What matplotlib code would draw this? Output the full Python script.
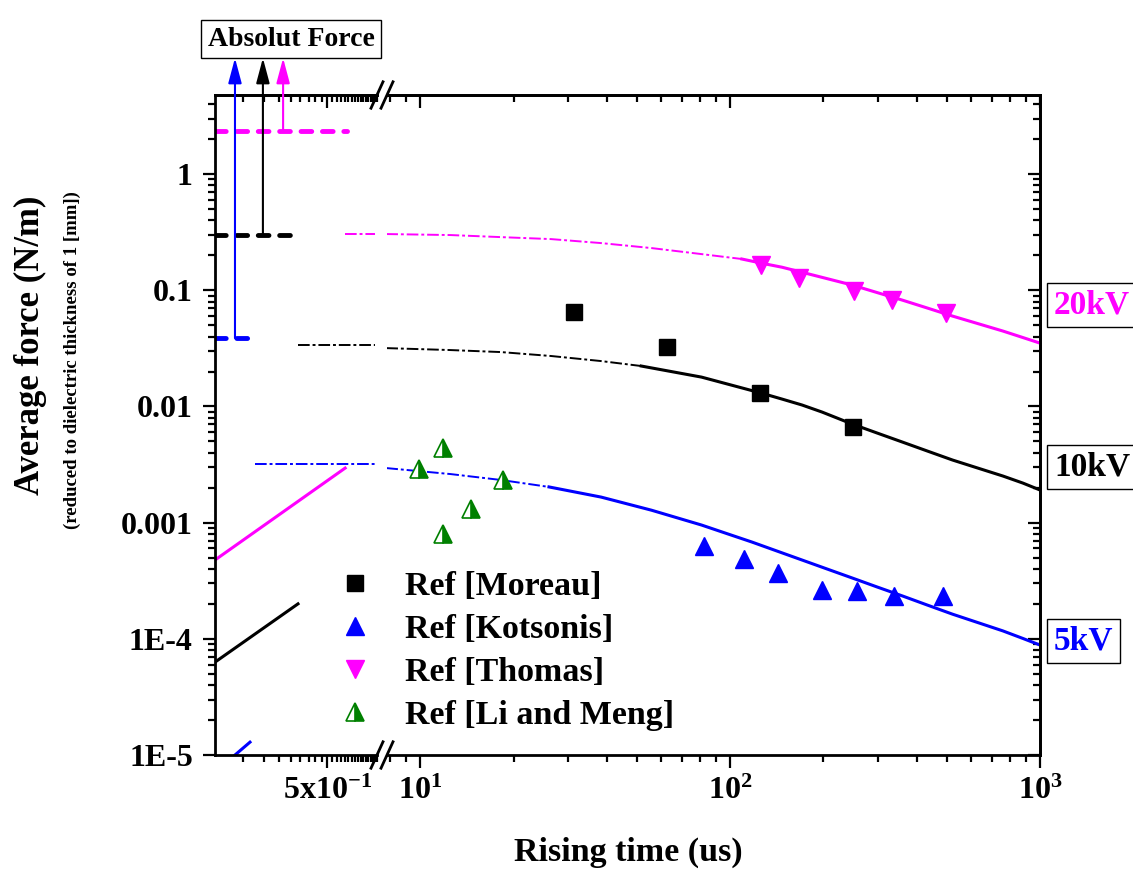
import numpy as np
import matplotlib.pyplot as plt
from matplotlib.ticker import NullFormatter, LogLocator

plt.rcParams['font.family'] = ['Liberation Serif', 'DejaVu Serif']
plt.rcParams['font.weight'] = 'bold'
plt.rcParams['mathtext.fontset'] = 'custom'
plt.rcParams['mathtext.rm'] = 'Liberation Serif:bold'
plt.rcParams['mathtext.it'] = 'Liberation Serif:bold'
plt.rcParams['mathtext.bf'] = 'Liberation Serif:bold'

MAG = '#FF00FF'
BLUE = '#0000FF'
GREEN = '#008000'

# experimental references (rising time in us, force in N/m)
moreau_t = [31.25, 62.5, 125, 250]
moreau_f = [0.065, 0.0325, 0.0130, 0.00665]
kotsonis_t = [82.6, 111, 142.6, 198, 257, 339, 485]
kotsonis_f = [6.3e-4, 4.86e-4, 3.68e-4, 2.63e-4, 2.6e-4, 2.33e-4, 2.33e-4]
thomas_t = [125.6, 167, 251, 333, 499]
thomas_f = [0.165, 0.127, 0.098, 0.082, 0.0637]
li_t = [9.93, 11.8, 18.5, 14.6, 11.8]
li_f = [2.89e-3, 4.39e-3, 2.33e-3, 1.31e-3, 7.98e-4]

# model curves, right part of the axis (dash-dot part, then solid part)
t20_dd = [7.76, 12.5, 18.2, 26.4, 38.3, 55.7, 80.8, 109]
f20_dd = [0.305, 0.299, 0.287, 0.276, 0.255, 0.231, 0.205, 0.186]
t20 = [109, 126.5, 147, 170.5, 205.5, 247.6, 298.5, 359.6, 433.5, 522, 630, 759, 881, 1000]
f20 = [0.186, 0.171, 0.158, 0.143, 0.126, 0.111, 0.0955, 0.0823, 0.0703, 0.060,
       0.0517, 0.0446, 0.0392, 0.0351]

t10_dd = [7.76, 12.5, 18.2, 26.4, 38.3, 51.6]
f10_dd = [0.0318, 0.0306, 0.0294, 0.0272, 0.0246, 0.0223]
t10 = [51.6, 80.8, 126.5, 147, 170.5, 198, 247.6, 298.5, 359.6, 433.5, 522, 630, 759,
       881, 1000]
f10 = [0.0223, 0.0179, 0.0130, 0.01158, 0.0103, 0.00895, 0.00706, 0.0059, 0.00494,
       0.00413, 0.00346, 0.00295, 0.00252, 0.00219, 0.00191]

t5_dd = [7.76, 12.5, 18.2, 26.0]
f5_dd = [0.00295, 0.00262, 0.00233, 0.00203]
t5 = [26.0, 38.3, 55.7, 80.8, 97.4, 117.5, 141.5, 170.5, 205.5, 247.6, 298.5, 359.6,
      433.5, 522, 630, 759, 881, 1000]
f5 = [0.00203, 0.00166, 0.00128, 9.54e-4, 8.06e-4, 6.81e-4, 5.70e-4, 4.77e-4, 3.99e-4,
      3.34e-4, 2.79e-4, 2.34e-4, 1.95e-4, 1.63e-4, 1.38e-4, 1.17e-4, 1.007e-4, 8.84e-5]

# left part of the axis
tl20 = [0.0583, 0.706]
fl20 = [4.77e-4, 2.95e-3]
tl10 = [0.0583, 0.286]
fl10 = [6.3e-5, 2.0e-4]
tl5 = [0.0855, 0.114]
fl5 = [1.0e-5, 1.29e-5]

abs20_t, abs20_f = [0.0583, 0.734], [2.34, 2.34]
abs10_t, abs10_f = [0.0583, 0.246], [0.30, 0.30]
abs5_t, abs5_f = [0.0583, 0.114], [0.0388, 0.0388]
arrow_t = [0.0855, 0.146, 0.215]
arrow_f = [0.0388, 0.30, 2.34]
arrow_c = [BLUE, 'black', MAG]

ddl20_t, ddl20_f = [0.706, 1.26], [0.305, 0.305]
ddl10_t, ddl10_f = [0.286, 1.26], [0.0337, 0.0337]
ddl5_t, ddl5_f = [0.126, 1.26], [0.00319, 0.00319]

yticks = [1e-5, 1e-4, 1e-3, 1e-2, 1e-1, 1]
ylabels = ['1E-5', '1E-4', '0.001', '0.01', '0.1', '1']
left_minor = list(np.arange(0.1, 1.32, 0.05))

W, H = 1133, 872
fig = plt.figure(figsize=(W / 100, H / 100), dpi=100)
ax1 = fig.add_axes([215 / W, 117 / H, (377 - 215) / W, 660 / H])
ax2 = fig.add_axes([387 / W, 117 / H, (1040 - 387) / W, 660 / H])

dd = (0, (6, 1.5, 1.5, 1.5))
for ax in (ax1, ax2):
    ax.set_xscale('log')
    ax.set_yscale('log')
    ax.set_ylim(1e-5, 4.8)
    for s in ax.spines.values():
        s.set_linewidth(2)
    ax.tick_params(which='both', direction='out', width=1.6, top=False, right=False)
    ax.tick_params(which='major', length=9, labelsize=23, pad=7)
    ax.tick_params(which='minor', length=5)
    ax.yaxis.set_minor_formatter(NullFormatter())
    ax.xaxis.set_minor_formatter(NullFormatter())

ax1.spines['right'].set_visible(False)
ax2.spines['left'].set_visible(False)
ax1.set_xlim(0.0583, 1.30)
ax2.set_xlim(7.8, 1000)
ax1.set_yticks(yticks, labels=ylabels)
ax1.yaxis.set_minor_locator(LogLocator(subs=np.arange(2, 10)))
ax2.tick_params(axis='y', which='both', left=False, labelleft=False)
ax1.set_xticks([0.5], labels=['5x$10^{-1}$'])
ax1.set_xticks(left_minor, minor=True)
ax1.xaxis.set_minor_formatter(NullFormatter())
ax2.set_xticks([10, 100, 1000], labels=['$10^{1}$', '$10^{2}$', '$10^{3}$'])

# top ticks point down, right ticks point into the plot
top1 = ax1.secondary_xaxis('top')
top1.set_xticks([0.5], labels=[''])
top1.set_xticks(left_minor, minor=True)
top2 = ax2.secondary_xaxis('top')
top2.set_xticks([10, 100, 1000], labels=['', '', ''])
right2 = ax2.secondary_yaxis('right')
right2.set_yticks(yticks, labels=[''] * 6)
right2.yaxis.set_minor_locator(LogLocator(subs=np.arange(2, 10)))
for sec in (top1, top2, right2):
    sec.tick_params(which='both', direction='in', width=1.6)
    sec.tick_params(which='major', length=9)
    sec.tick_params(which='minor', length=5)
    sec.xaxis.set_minor_formatter(NullFormatter())
    sec.yaxis.set_minor_formatter(NullFormatter())
    for s in sec.spines.values():
        s.set_linewidth(2)

# left part
ax1.plot(tl20, fl20, color=MAG, lw=2.2)
ax1.plot(tl10, fl10, color='black', lw=2.2)
ax1.plot(tl5, fl5, color=BLUE, lw=2.2)
for t, f, c in [(abs20_t, abs20_f, MAG), (abs10_t, abs10_f, 'black'), (abs5_t, abs5_f, BLUE)]:
    ax1.plot(t, f, color=c, lw=3.5, ls=(0, (2.2, 2.2)), dash_capstyle='round')
for t, f, c in [(ddl20_t, ddl20_f, MAG), (ddl10_t, ddl10_f, 'black'), (ddl5_t, ddl5_f, BLUE)]:
    ax1.plot(t, f, color=c, lw=1.4, ls=dd)
for t, f, c in zip(arrow_t, arrow_f, arrow_c):
    ax1.annotate('', xy=(t, 1.056), xycoords=ax1.get_xaxis_transform(),
                 xytext=(t, f), textcoords='data', annotation_clip=False,
                 arrowprops=dict(arrowstyle='-|>,head_length=0.9,head_width=0.24',
                                 color=c, lw=1.5, shrinkA=0, shrinkB=0,
                                 mutation_scale=17))

# right part
ax2.plot(t20_dd, f20_dd, color=MAG, lw=1.4, ls=dd)
ax2.plot(t20, f20, color=MAG, lw=2.2)
ax2.plot(t10_dd, f10_dd, color='black', lw=1.4, ls=dd)
ax2.plot(t10, f10, color='black', lw=2.2)
ax2.plot(t5_dd, f5_dd, color=BLUE, lw=1.4, ls=dd)
ax2.plot(t5, f5, color=BLUE, lw=2.2)

h1, = ax2.plot(moreau_t, moreau_f, ls='none', marker='s', ms=11, color='black')
h2, = ax2.plot(kotsonis_t, kotsonis_f, ls='none', marker='^', ms=13, color=BLUE)
h3, = ax2.plot(thomas_t, thomas_f, ls='none', marker='v', ms=13, color=MAG)
h4, = ax2.plot(li_t, li_f, ls='none', marker='^', ms=13, color=GREEN,
               fillstyle='right', markerfacecoloralt='white', mec=GREEN, mew=1.2)

fig.legend([h1, h2, h3, h4],
           ['Ref [Moreau]', 'Ref [Kotsonis]', 'Ref [Thomas]', 'Ref [Li and Meng]'],
           loc='upper left', bbox_to_anchor=(328 / W, 1 - 571 / H), frameon=False,
           fontsize=24.5, handletextpad=0.67, labelspacing=0.35, borderaxespad=0,
           borderpad=0, handlelength=1.6)

# break marks
for ax, x0, dx in [(ax1, 1.0, 6 / 162), (ax2, 0.0, 6 / 653)]:
    for y0 in (0, 1):
        ax.plot([x0 - dx, x0 + dx], [y0 - 0.02, y0 + 0.02], color='black', lw=2,
                transform=ax.transAxes, clip_on=False)

fig.text(291 / W, 1 - 39 / H, 'Absolut Force', ha='center', va='center', fontsize=20,
         bbox=dict(boxstyle='square,pad=0.25', fc='white', ec='black', lw=1))
for txt, c, yp in [('20kV', MAG, 305), ('10kV', 'black', 467), ('5kV', BLUE, 641)]:
    fig.text(1054 / W, 1 - yp / H, txt, color=c, ha='left', va='center', fontsize=24,
             bbox=dict(boxstyle='square,pad=0.2', fc='white', ec='black', lw=1))

fig.text(30 / W, 1 - 345 / H, 'Average force (N/m)', rotation=90, ha='center',
         va='center', fontsize=25)
fig.text(72 / W, 1 - 360 / H, '(reduced to dielectric thickness of 1 [mm])', rotation=90,
         ha='center', va='center', fontsize=13.5)
fig.text(628 / W, 1 - 852 / H, 'Rising time (us)', ha='center', va='center', fontsize=24.5)

fig.savefig('out.png', dpi=100)
